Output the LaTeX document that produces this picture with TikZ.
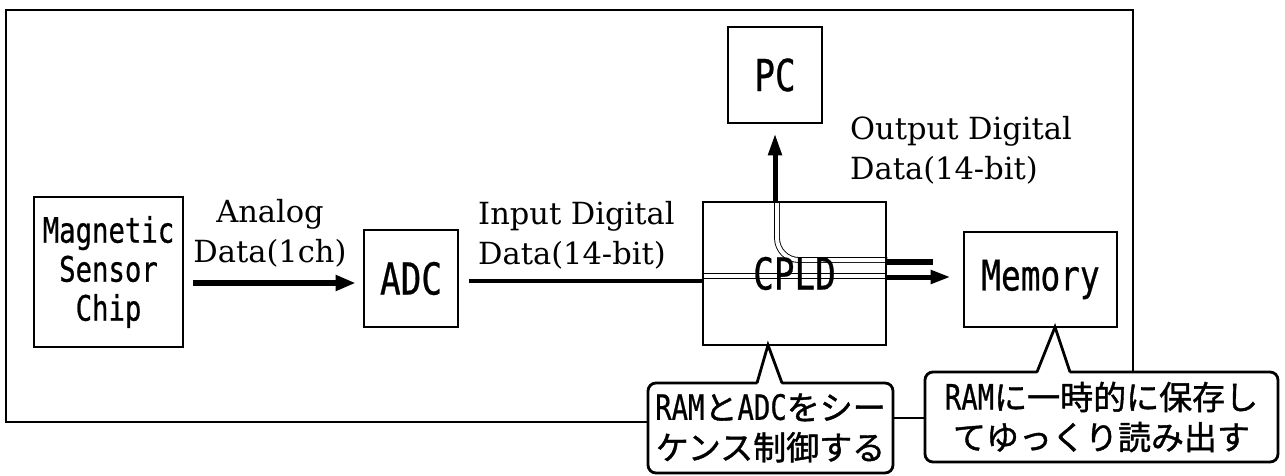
\documentclass[tikz,border=0pt]{standalone}
\usepackage{fontspec}
\setmainfont{DejaVu Serif}
\newfontfamily\boxfont[FakeStretch=0.78,FakeBold=0.6]{DejaVu Sans Mono}
\newfontfamily\jpfont[FakeBold=1.2]{Noto Sans CJK JP}
\usetikzlibrary{arrows.meta}
\pgfdeclarelayer{background}
\pgfsetlayers{background,main}
\begin{document}
\begin{tikzpicture}[x=1pt,y=1pt,
  blk/.style={draw, line width=2.8pt, inner sep=0pt, align=center, font=\boxfont\fontsize{44}{48}\selectfont},
  lab/.style={inner sep=0pt, font=\fontsize{30.5}{40}\selectfont},
  callout/.style={draw, line width=2.8pt, rounded corners=8pt, inner sep=0pt, align=center, fill=white, font=\fontsize{33}{40}\selectfont},
  frameline/.style={line width=2.8pt, line join=miter},
  pipe/.style={double=white, double distance=4pt, line width=0.9pt},
  thickarrow/.style={line width=6pt, -{Triangle[length=20pt,width=15pt]}},
]
\useasboundingbox (0,0) rectangle (1285,475);

% blocks
\node[blk, minimum width=149pt, minimum height=150pt, font=\boxfont\fontsize{35}{39}\selectfont] (mag) at (108.5,203) {Magnetic\\Sensor\\Chip};
\node[blk, minimum width=94pt, minimum height=97pt] (adc) at (411,196.5) {ADC};
\node[blk, minimum width=183pt, minimum height=143pt] (cpld) at (794.5,201.5) {CPLD};
\node[blk, minimum width=94pt, minimum height=96pt] (pc) at (775,400) {PC};
\node[blk, minimum width=153pt, minimum height=95pt, font=\boxfont\fontsize{42}{48}\selectfont] (mem) at (1040.5,195.5) {Memory};

% pipes inside CPLD
\begin{pgfonlayer}{background}
\draw[pipe] (cpld.west |- 0,199) -- (cpld.east |- 0,199);
\draw[pipe, rounded corners=22pt] (777,273) -- (777,215) -- (cpld.east |- 0,215);
\end{pgfonlayer}

% labels
\node[lab, align=center] (lanalog) at (270,242) {Analog\\Data(1ch)};
\node[lab, align=left, anchor=west] (linput) at (478,240) {Input Digital\\Data(14-bit)};
\node[lab, align=left, anchor=west] (loutput) at (850,325) {Output Digital\\Data(14-bit)};

% connectors
\draw[thickarrow] ([xshift=9pt]mag.east |- 0,192) -- ([xshift=-7pt]adc.west |- 0,192);
\draw[line width=4pt] ([xshift=10pt]adc.east |- 0,194) -- (cpld.west |- 0,194);
\draw[line width=5pt, -{Triangle[length=22pt,width=13pt]}] (pc.south |- cpld.north) -- ([yshift=-9pt]pc.south);
\coordinate (barend) at (933,213);
\draw[line width=6pt] (cpld.east |- barend) -- (barend);
\draw[line width=5pt, -{Triangle[length=20pt,width=13pt]}] (cpld.east |- 0,198) -- ([xshift=-12pt]mem.west |- 0,198);

% callouts
\node[callout, minimum width=245pt, minimum height=90pt] (lc) at (770.5,47)
  {{\boxfont\fontsize{35}{40}\selectfont RAM}{\jpfont と}{\boxfont\fontsize{35}{40}\selectfont ADC}{\jpfont をシー}\\{\jpfont ケンス制御する}};
\node[callout, minimum width=353pt, minimum height=90pt] (rc) at (1101.5,58)
  {{\boxfont\fontsize{35}{40}\selectfont RAM}{\jpfont に一時的に保存し}\\{\jpfont てゆっくり読み出す}};

\coordinate (lctip) at (768,130);
\fill[white] (757,89.5) -- (lctip) -- (782,89.5) -- cycle;
\draw[frameline] (757,92) -- (lctip) -- (782,92);
\coordinate (rctip) at (1055,148);
\fill[white] (1037,100.5) -- (rctip) -- (1070,100.5) -- cycle;
\draw[frameline] (1037,103) -- (rctip) -- (1070,103);

% outer frame
\draw[frameline] (lc.west |- 0,53) -- (6,53) -- (6,465) -- (1133,465) -- (rc.north -| 1133,0);
\draw[frameline] (lc.east |- 0,57) -- (rc.west |- 0,57);
\end{tikzpicture}
\end{document}
